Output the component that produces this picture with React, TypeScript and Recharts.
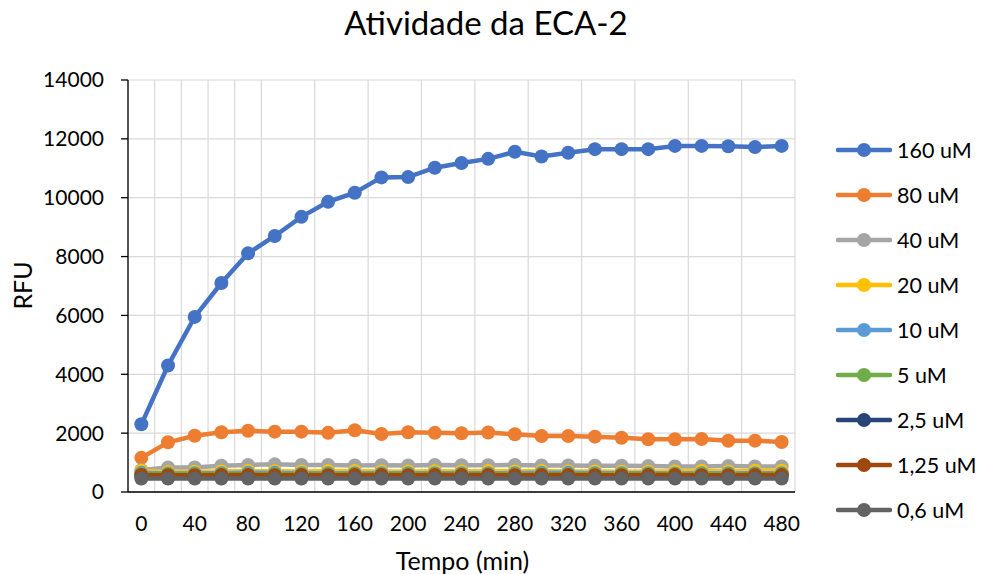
import React from 'react';
import { LineChart, Line, XAxis, YAxis, CartesianGrid } from 'recharts';

const times = [0, 20, 40, 60, 80, 100, 120, 140, 160, 180, 200, 220, 240, 260, 280, 300, 320, 340, 360, 380, 400, 420, 440, 460, 480];
const xTicks = [0, 40, 80, 120, 160, 200, 240, 280, 320, 360, 400, 440, 480];
const gridBounds = [-10, 10, 30, 50, 70, 90, 110, 130, 150, 170, 190, 210, 230, 250, 270, 290, 310, 330, 350, 370, 390, 410, 430, 450, 470, 490];
const yTicks = [0, 2000, 4000, 6000, 8000, 10000, 12000, 14000];

const s160 = [2300, 4300, 5950, 7100, 8110, 8700, 9350, 9860, 10170, 10690, 10700, 11020, 11180, 11320, 11560, 11400, 11530, 11650, 11650, 11650, 11760, 11760, 11750, 11720, 11760];
const s80 = [1160, 1690, 1910, 2030, 2080, 2050, 2050, 2010, 2100, 1970, 2030, 2010, 1995, 2020, 1960, 1900, 1900, 1880, 1845, 1790, 1790, 1800, 1740, 1745, 1700];
const s40 = [750, 830, 830, 890, 920, 940, 920, 920, 900, 910, 900, 920, 910, 910, 920, 900, 900, 890, 890, 880, 870, 870, 880, 870, 870];
const s20 = [720, 680, 690, 700, 710, 705, 700, 710, 710, 700, 700, 705, 700, 710, 700, 710, 700, 700, 690, 700, 700, 720, 700, 720, 720];
const s10 = [650, 630, 640, 640, 650, 650, 640, 640, 640, 640, 640, 640, 640, 640, 640, 650, 650, 640, 640, 640, 630, 640, 640, 640, 640];
const s5 = [600, 600, 600, 600, 600, 600, 600, 600, 600, 600, 600, 600, 600, 600, 600, 600, 600, 600, 600, 600, 600, 600, 600, 600, 600];
const s25 = [540, 540, 540, 540, 540, 540, 540, 540, 540, 540, 540, 540, 540, 540, 540, 540, 540, 540, 540, 540, 540, 540, 540, 540, 540];
const s125 = [580, 570, 570, 575, 575, 570, 575, 570, 575, 575, 570, 575, 575, 575, 570, 575, 575, 570, 570, 575, 575, 570, 570, 575, 575];
const s06 = [460, 460, 460, 460, 460, 455, 460, 460, 455, 460, 455, 460, 460, 455, 460, 455, 460, 455, 455, 455, 455, 460, 455, 460, 455];

const seriesNames = ['160 uM', '80 uM', '40 uM', '20 uM', '10 uM', '5 uM', '2,5 uM', '1,25 uM', '0,6 uM'];
const seriesValues = [s160, s80, s40, s20, s10, s5, s25, s125, s06];
const colors = ['#4472C4', '#ED7D31', '#A5A5A5', '#FFC000', '#5B9BD5', '#70AD47', '#264478', '#9E480E', '#636363'];

const data = times.map((t, i) => {
  const row: Record<string, number> = { t };
  seriesValues.forEach((arr, k) => {
    row['s' + k] = arr[i];
  });
  return row;
});

const FONT = 'Lato, "Open Sans", sans-serif';

const LegendBox = () => (
  <div style={{ position: 'absolute', left: 836, top: 128, fontFamily: FONT, fontSize: 21.5, color: '#000' }}>
    {seriesNames.map((n, k) => (
      <div key={n} style={{ display: 'flex', alignItems: 'center', height: 44.9 }}>
        <svg width={56} height={16} style={{ marginRight: 5 }}>
          <line x1={2} y1={8} x2={54} y2={8} stroke={colors[k]} strokeWidth={4.5} strokeLinecap="round" />
          <circle cx={28} cy={8} r={7} fill={colors[k]} />
        </svg>
        <span>{n}</span>
      </div>
    ))}
  </div>
);

export default function App() {
  return (
    <div style={{ position: 'absolute', left: 0, top: 0, width: 982, height: 574, background: '#fff', fontFamily: FONT }}>
      <svg width={982} height={574} style={{ position: 'absolute', left: 0, top: 0 }}>
        <text x={486} y={35} textAnchor="middle" fontSize={33} fontFamily={FONT} fill="#000">Atividade da ECA-2</text>
        <text x={462.5} y={570} textAnchor="middle" fontSize={25} fontFamily={FONT} fill="#000">Tempo (min)</text>
        <text x={32} y={285.5} textAnchor="middle" fontSize={25} fontFamily={FONT} fill="#000" transform="rotate(-90 32 285.5)">RFU</text>
      </svg>
      <div style={{ position: 'absolute', left: 0, top: 0 }}>
        <LineChart width={982} height={574} data={data} margin={{ top: 80, right: 187, bottom: 52, left: 68 }}>
          <CartesianGrid xAxisId="grid" stroke="#d9d9d9" strokeWidth={1.2} horizontal={true} vertical={true} />
          <XAxis
            dataKey="t"
            type="number"
            domain={[-10, 490]}
            ticks={xTicks}
            interval={0}
            tickLine={false}
            tickSize={0}
            tickMargin={24}
            axisLine={{ stroke: '#000', strokeWidth: 1.3 }}
            tick={{ fill: '#000', fontSize: 21, fontFamily: FONT }}
            height={30}
          />
          <XAxis xAxisId="grid" dataKey="t" type="number" domain={[-10, 490]} ticks={gridBounds} hide height={0} />
          <YAxis
            domain={[0, 14000]}
            ticks={yTicks}
            interval={0}
            width={60}
            tickSize={7}
            tickMargin={17}
            tickLine={{ stroke: '#000', strokeWidth: 1.3 }}
            axisLine={{ stroke: '#000', strokeWidth: 1.3 }}
            tick={{ fill: '#000', fontSize: 21, fontFamily: FONT }}
          />
          {seriesNames.map((n, k) => (
            <Line
              key={n}
              type="linear"
              dataKey={'s' + k}
              name={n}
              stroke={colors[k]}
              strokeWidth={4.5}
              dot={{ r: 7, fill: colors[k], stroke: colors[k], strokeWidth: 0 }}
              activeDot={false}
              isAnimationActive={false}
            />
          ))}
        </LineChart>
      </div>
      <LegendBox />
    </div>
  );
}
